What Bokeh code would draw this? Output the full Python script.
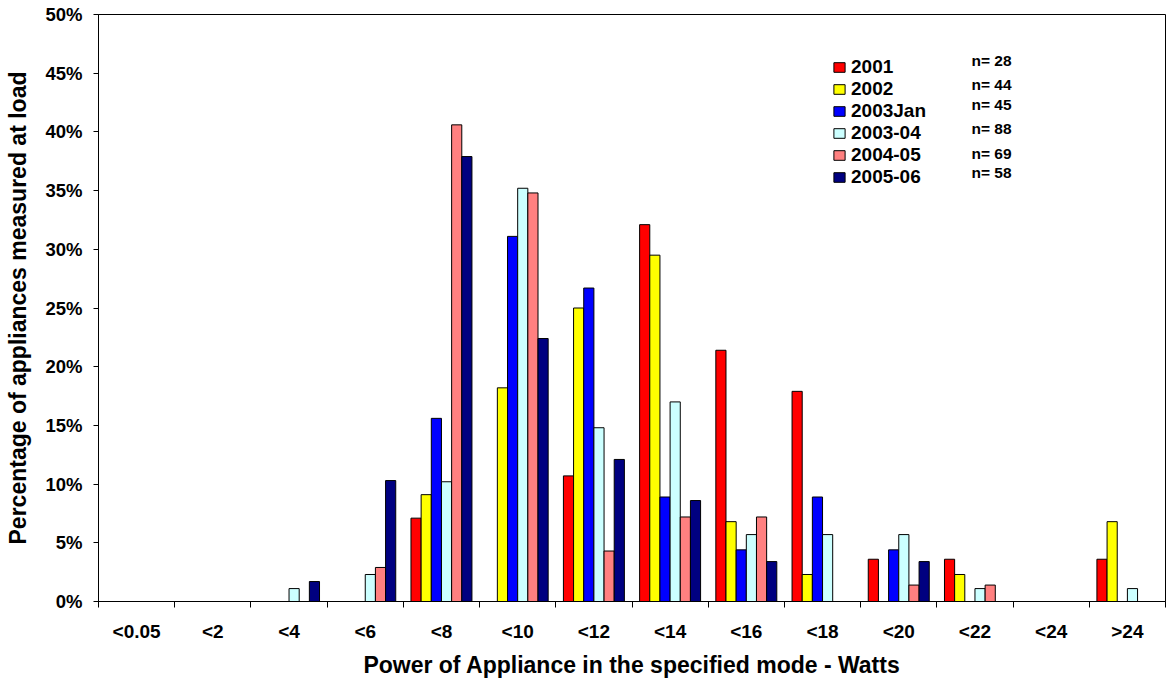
from bokeh.plotting import figure
from bokeh.models import (ColumnDataSource, Range1d, FixedTicker,
                          PrintfTickFormatter, CustomJSTickFormatter, Legend, LegendItem, Label)
from bokeh.transform import dodge
from bokeh.embed import file_html
from bokeh.resources import INLINE

# ---------------- data ----------------
categories = ["<0.05", "<2", "<4", "<6", "<8", "<10", "<12", "<14",
              "<16", "<18", "<20", "<22", "<24", ">24"]
series_names = ["2001", "2002", "2003Jan", "2003-04", "2004-05", "2005-06"]
n_values = [28, 44, 45, 88, 69, 58]

v2001    = [0, 0, 0,   0,    7.1, 0,    10.7, 32.1, 21.4, 17.9, 3.6, 3.6, 0, 3.6]
v2002    = [0, 0, 0,   0,    9.1, 18.2, 25.0, 29.5, 6.8,  2.3,  0,   2.3, 0, 6.8]
v2003jan = [0, 0, 0,   0,   15.6, 31.1, 26.7, 8.9,  4.4,  8.9,  4.4, 0,   0, 0]
v2003_04 = [0, 0, 1.1, 2.3, 10.2, 35.2, 14.8, 17.0, 5.7,  5.7,  5.7, 1.1, 0, 1.1]
v2004_05 = [0, 0, 0,   2.9, 40.6, 34.8, 4.3,  7.2,  7.2,  0,    1.4, 1.4, 0, 0]
v2005_06 = [0, 0, 1.7, 10.3, 37.9, 22.4, 12.1, 8.6, 3.4,  0,    3.4, 0,   0, 0]

y_ticks_pct = [0, 5, 10, 15, 20, 25, 30, 35, 40, 45, 50]

# ---------------- styles ----------------
colors = ["#FF0000", "#FFFF00", "#0000FF", "#CCFFFF", "#FF8080", "#000080"]
FONT = "Liberation Sans"

series_cols = ["s2001", "s2002", "s2003jan", "s2003_04", "s2004_05", "s2005_06"]
source = ColumnDataSource(data=dict(
    x=[i + 0.5 for i in range(len(categories))],
    cat=categories,
    s2001=v2001, s2002=v2002, s2003jan=v2003jan,
    s2003_04=v2003_04, s2004_05=v2004_05, s2005_06=v2005_06,
))

FRAME_H = 587
p = figure(width=1166, height=680, output_backend="svg", toolbar_location=None,
           x_range=Range1d(0, len(categories)), y_range=Range1d(0, 50),
           min_border_left=98, min_border_right=1, min_border_top=14, min_border_bottom=79)
p.background_fill_color = "white"
p.border_fill_color = "white"
p.outline_line_color = "black"
p.outline_line_width = 1
p.xgrid.visible = False
p.ygrid.visible = False

n_series = len(series_cols)
bar_w = 1.0 / (n_series + 1.5)
renderers = []
for k, col in enumerate(series_cols):
    off = (k - (n_series - 1) / 2) * bar_w
    r = p.vbar(x=dodge("x", off, range=p.x_range), top=col, width=bar_w, bottom=0,
               source=source, fill_color=colors[k], line_color="black", line_width=1)
    renderers.append(r)

# y axis
ya = p.yaxis[0]
ya.ticker = FixedTicker(ticks=y_ticks_pct)
ya.formatter = PrintfTickFormatter(format="%d%%")
ya.axis_label = "Percentage of appliances measured at load"
ya.axis_label_text_font = FONT
ya.axis_label_text_font_size = "23px"
ya.axis_label_text_font_style = "bold"
ya.axis_label_text_color = "black"
ya.axis_label_standoff = 11
ya.major_label_text_font = FONT
ya.major_label_text_font_size = "18.5px"
ya.major_label_text_font_style = "bold"
ya.major_label_text_color = "black"
ya.major_label_standoff = 11
ya.major_tick_out = 5
ya.major_tick_in = 0
ya.minor_tick_out = 0
ya.minor_tick_in = 0
ya.axis_line_color = "black"
ya.major_tick_line_color = "black"

# x axis
xa = p.xaxis[0]
xa.ticker = FixedTicker(ticks=[i + 0.5 for i in range(len(categories))],
                        minor_ticks=list(range(len(categories) + 1)))
xa.formatter = CustomJSTickFormatter(args=dict(cats=categories),
                                     code="return cats[Math.floor(tick)];")
xa.axis_label = "Power of Appliance in the specified mode - Watts"
xa.axis_label_text_font = FONT
xa.axis_label_text_font_size = "23px"
xa.axis_label_text_font_style = "bold"
xa.axis_label_text_color = "black"
xa.axis_label_standoff = 7
xa.major_label_text_font = FONT
xa.major_label_text_font_size = "19px"
xa.major_label_text_font_style = "bold"
xa.major_label_text_color = "black"
xa.major_label_standoff = 13
xa.major_tick_out = 0
xa.major_tick_in = 0
xa.minor_tick_out = 6
xa.minor_tick_in = 0
xa.axis_line_color = "black"
xa.minor_tick_line_color = "black"

# legend (location = bottom-left corner in frame screen units)
legend = Legend(items=[LegendItem(label=name, renderers=[r]) for name, r in zip(series_names, renderers)],
                location=(734, 413), orientation="vertical",
                padding=0, margin=0, spacing=0,
                glyph_width=14, glyph_height=12, label_standoff=5,
                label_text_font=FONT, label_text_font_size="19px", label_text_font_style="bold",
                label_text_color="black",
                border_line_alpha=0, background_fill_alpha=0)
p.add_layout(legend)

n_label_y = [46, 70, 90, 114, 139, 158]
for n, yo in zip(n_values, n_label_y):
    p.add_layout(Label(x=873, y=FRAME_H - yo, x_units="screen", y_units="screen",
                       text=f"n= {n}", text_font=FONT, text_font_size="15.5px",
                       text_font_style="bold", text_baseline="middle", text_color="black"))

open("out.html", "w").write(file_html(p, INLINE))
